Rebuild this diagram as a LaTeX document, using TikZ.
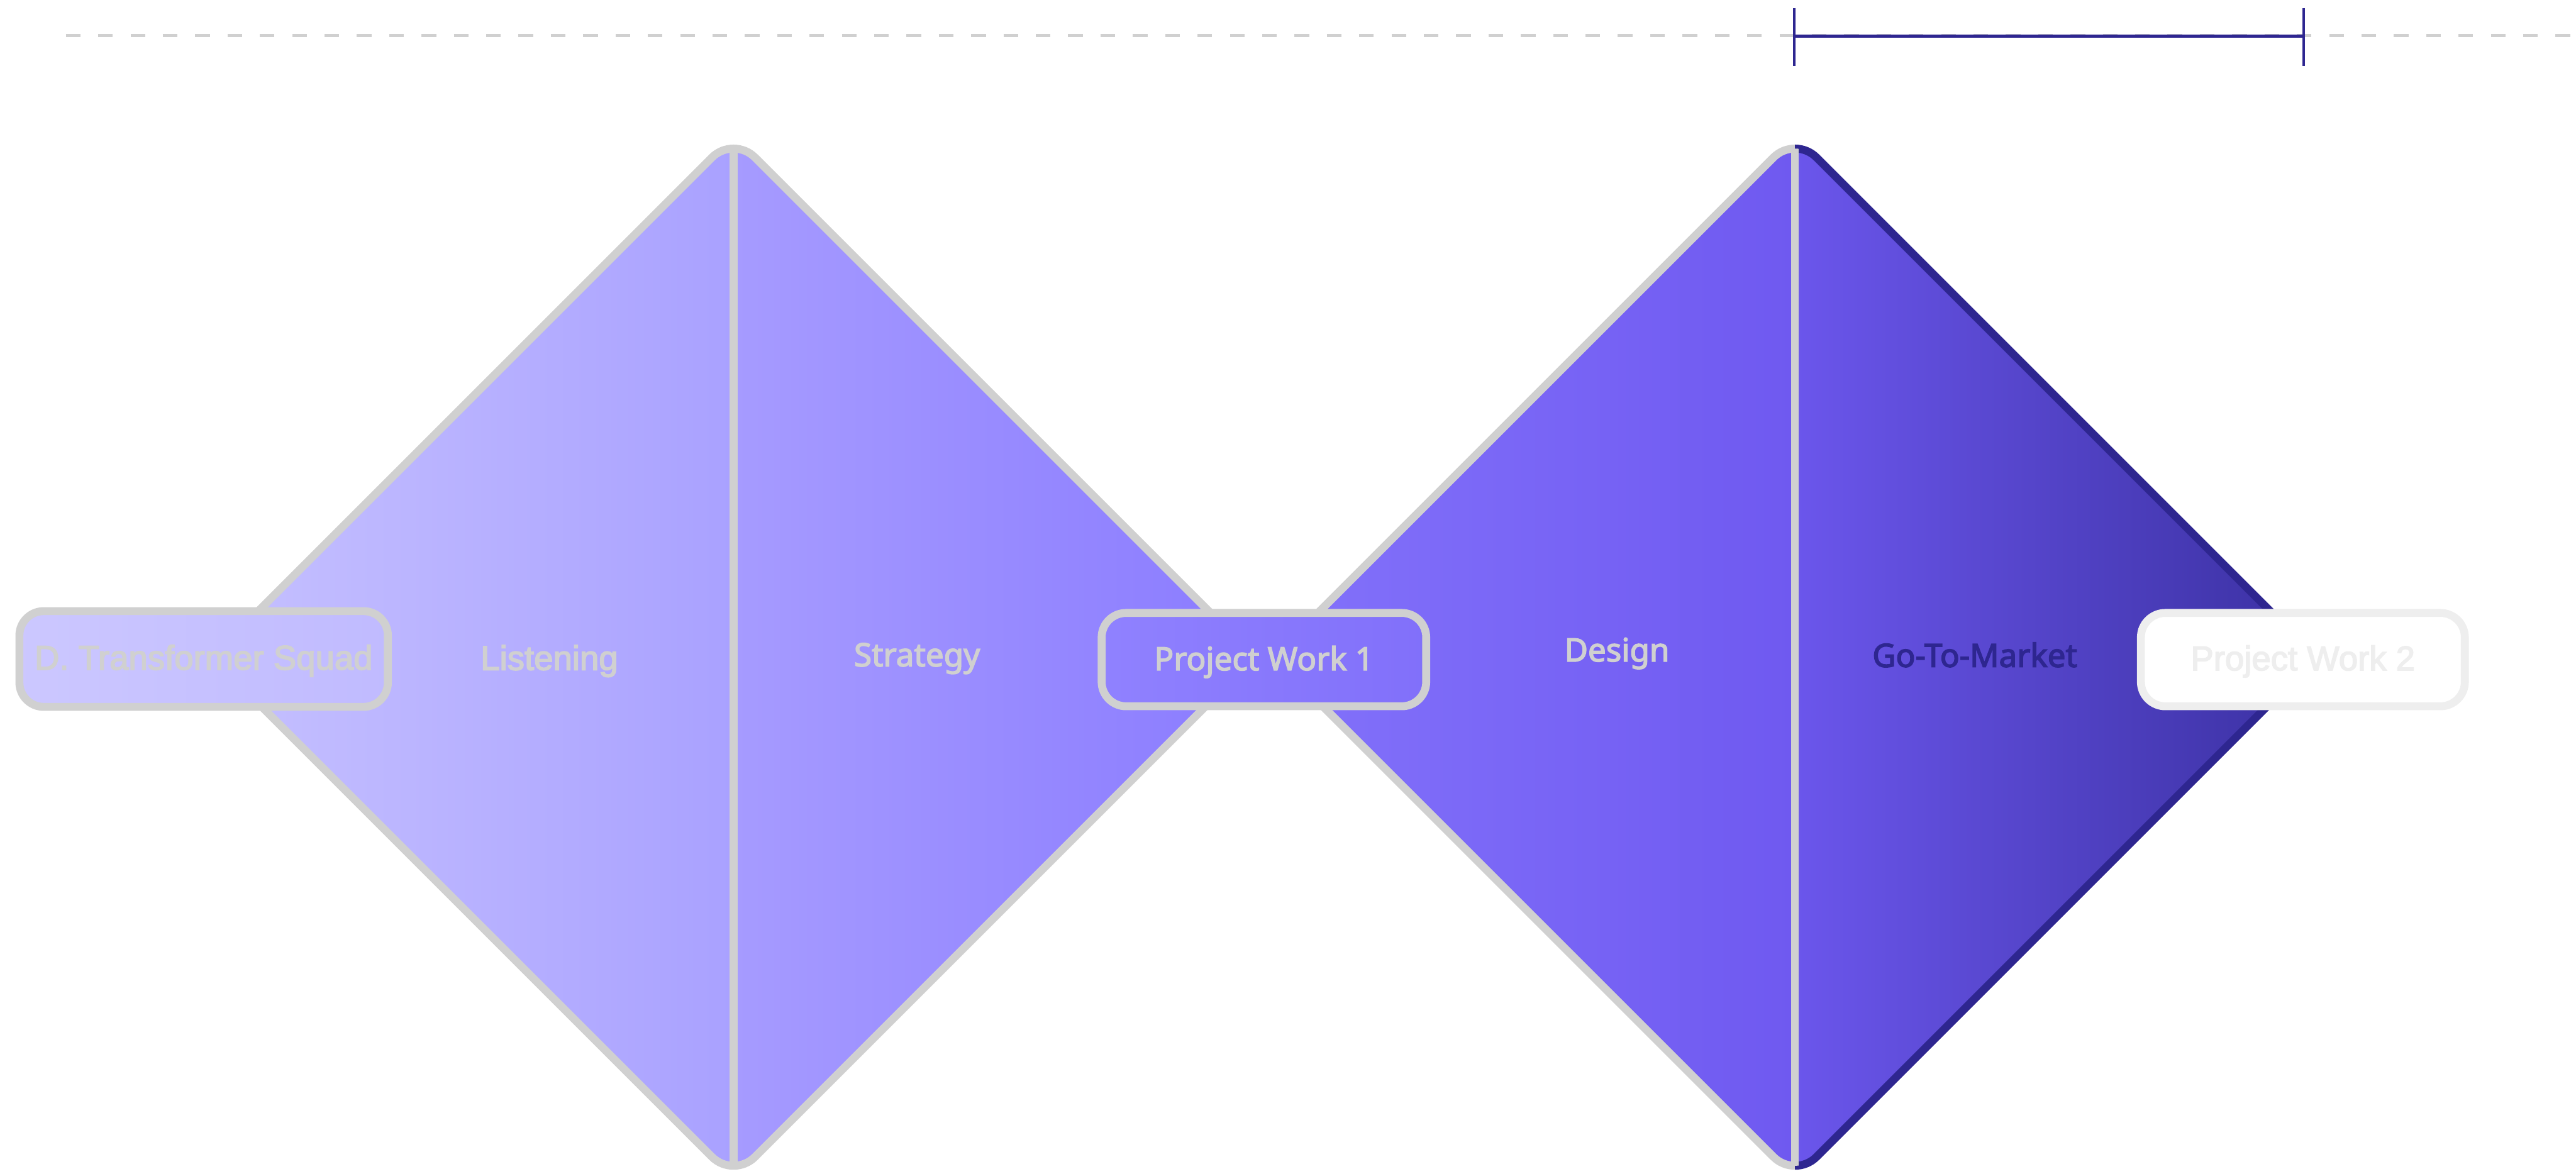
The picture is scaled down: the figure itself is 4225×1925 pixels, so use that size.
\documentclass[tikz,border=0pt]{standalone}
\usepackage{fontspec}
\usetikzlibrary{positioning}
\newfontfamily\plainsans[RawFeature={embolden=3}]{Liberation Sans}
\newfontfamily\firmsans[RawFeature={embolden=3}]{Noto Sans}
\definecolor{SoftGray}{HTML}{D0D0D0}
\definecolor{PaleGray}{HTML}{EEEEEE}
\definecolor{DeepNavy}{HTML}{2E2690}
\definecolor{LilacA}{HTML}{C6C1FF}
\definecolor{LilacB}{HTML}{A9A1FF}
\definecolor{LilacC}{HTML}{A69BFF}
\definecolor{LilacD}{HTML}{8A7BFF}
\definecolor{VioletA}{HTML}{8372FB}
\definecolor{VioletB}{HTML}{6F59F0}
\definecolor{VioletC}{HTML}{6B56EC}
\definecolor{VioletD}{HTML}{3A30A1}
\newcommand{\kite}[1]{(#1,223) -- ({#1-855},1078) -- (#1,1933) -- ({#1+855},1078) -- cycle}

\begin{document}
\begin{tikzpicture}[
    x=0.01cm, y=-0.01cm,
    outline/.style={line width=0.13cm, rounded corners=0.5cm, line join=round},
    divider/.style={draw=SoftGray, line width=0.13cm},
    tag/.style={draw=SoftGray, line width=0.13cm, rounded corners=0.4cm, minimum height=1.53cm, inner sep=0pt, text height=0.38cm, text depth=0.03cm},
    plainlabel/.style={anchor=base, inner sep=0pt, font=\plainsans\fontsize{16}{19}\selectfont, text=SoftGray},
    firmlabel/.style={anchor=base, inner sep=0pt, font=\firmsans\fontsize{15}{18}\selectfont, text=SoftGray}
  ]
    \useasboundingbox (0,0) rectangle (4225,1925);

    % Timeline
    \draw[SoftGray, line width=0.05cm, dash pattern=on 0.24cm off 0.29cm] (108,58) -- (4225,58);
    \coordinate (spanL) at (2943,59);
    \coordinate (spanR) at (3778,59);
    \draw[DeepNavy, line width=0.05cm] (spanL) -- (spanR);
    \draw[DeepNavy, line width=0.04cm] ([yshift=0.46cm]spanL) -- ([yshift=-0.49cm]spanL);
    \draw[DeepNavy, line width=0.04cm] ([yshift=0.46cm]spanR) -- ([yshift=-0.49cm]spanR);

    % First diamond
    \begin{scope}
      \clip[rounded corners=0.5cm] \kite{1203};
      \shade[left color=LilacA, right color=LilacB] (348,200) rectangle (1203,1950);
      \shade[left color=LilacC, right color=LilacD] (1203,200) rectangle (2059,1950);
      \draw[divider] (1203,150) -- (1203,1950);
    \end{scope}
    \draw[outline, SoftGray] \kite{1203};

    % Second diamond
    \begin{scope}
      \clip[rounded corners=0.5cm] \kite{2944};
      \shade[left color=VioletA, right color=VioletB] (2089,200) rectangle (2944,1950);
      \shade[left color=VioletC, right color=VioletD] (2944,200) rectangle (3800,1950);
    \end{scope}
    \begin{scope}
      \clip (2000,150) rectangle (2944,1950);
      \draw[outline, SoftGray] \kite{2944};
    \end{scope}
    \begin{scope}
      \clip (2944,150) rectangle (3900,1950);
      \draw[outline, DeepNavy] \kite{2944};
    \end{scope}
    \begin{scope}
      \clip[rounded corners=0.5cm] \kite{2944};
      \draw[divider] (2944,150) -- (2944,1950);
    \end{scope}

    % Phases
    \node[plainlabel] (listen) at (901,1099) {Listening};
    \node[firmlabel] (strategy) at (1504,1093) {Strategy};
    \node[firmlabel] (design) at (2652,1085) {Design};
    \node[firmlabel, text=DeepNavy] (market) at (3239,1094) {Go-To-Market};

    % Tags
    \node[tag, minimum width=6.04cm, minimum height=1.57cm, left color=LilacA!90!white, right color=LilacA!80!LilacB,
          font=\plainsans\fontsize{16}{19}\selectfont, text=SoftGray] (squad) at (334,1081) {D. Transformer Squad};
    \node[tag, minimum width=5.32cm, left color=LilacD!95!white, right color=VioletA!90!VioletB,
          font=\firmsans\fontsize{15}{18}\selectfont, text=SoftGray] (work1) at (2073,1082) {Project Work 1};
    \node[tag, draw=PaleGray, fill=white, minimum width=5.31cm,
          font=\plainsans\fontsize{16}{19}\selectfont, text=PaleGray] (work2) at (3777,1082) {Project Work 2};
  \end{tikzpicture}
\end{document}
